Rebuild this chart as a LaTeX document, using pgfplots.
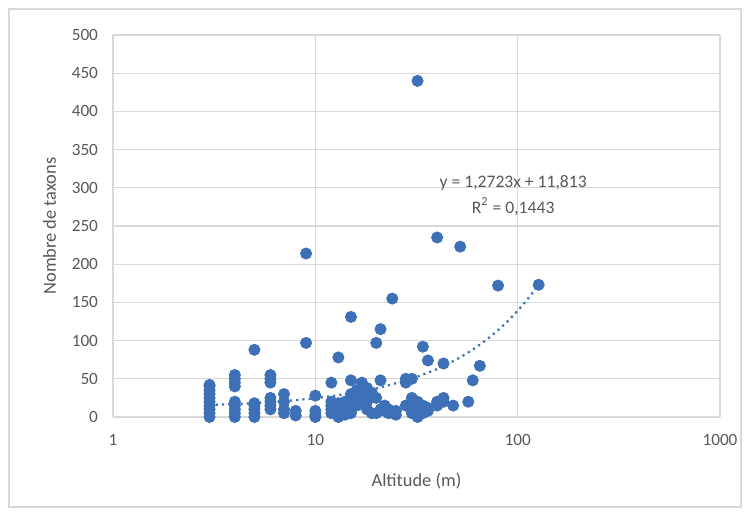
\documentclass[border=0pt]{standalone}
\usepackage{pgfplots}
\pgfplotsset{compat=1.18}
\usepackage{fontspec}
\setmainfont{Carlito}
\definecolor{ptblue}{HTML}{3E70B8}
\definecolor{txtgray}{HTML}{595959}
\definecolor{gridgray}{HTML}{D9D9D9}
\begin{document}
\begin{tikzpicture}[x=0.5pt,y=0.5pt]
\fill[white] (0,0) rectangle (750,516);
\draw[gridgray, line width=0.6pt] (9,9) rectangle (741,507);
\begin{axis}[
  at={(113pt*0.5,99pt*0.5)}, anchor=south west,
  scale only axis,
  width=303.5pt, height=191pt,
  xmode=log, log basis x=10,
  xmin=1, xmax=1000,
  ymin=0, ymax=500,
  ytick={0,50,...,500},
  xtick={1,10,100,1000},
  xticklabels={1,10,100,1000},
  grid=major,
  major grid style={gridgray, line width=0.6pt},
  axis line style={draw=none},
  tick style={draw=none},
  tick label style={font=\fontsize{8.6}{10}\selectfont, text=txtgray},
  xticklabel style={yshift=-5pt},
  yticklabel style={xshift=-4pt},
  /pgf/number format/assume math mode=true,
  xlabel={Altitude (m)},
  ylabel={Nombre de taxons},
  label style={font=\fontsize{9.2}{11}\selectfont, text=txtgray},
  xlabel style={yshift=-7pt},
  ylabel style={yshift=1pt},
  clip=false,
]
\draw[gridgray, line width=0.8pt] (axis cs:1,0) -- (axis cs:1000,0);
\addplot[only marks, mark=*, mark size=2.8pt, ptblue, mark options={draw=ptblue, fill=ptblue}] table {
x y
32 440
40 235
52 223
9 214
80 172
127 173
24 155
15 131
21 115
9 97
20 97
5 88
34 92
13 78
36 74
43 70
65 67
60 48
57 20
3 0
3 5
3 10
3 15
3 20
3 25
3 30
3 35
3 40
3 42
4 0
4 5
4 10
4 15
4 20
4 40
4 45
4 50
4 55
5 0
5 5
5 10
5 15
5 18
6 10
6 15
6 20
6 25
6 45
6 50
6 55
7 5
7 10
7 20
7 30
8 2
8 8
10 0
10 3
10 8
10 28
12 5
12 10
12 15
12 20
12 45
13 0
13 5
13 10
13 18
14 3
14 8
14 15
14 20
15 5
15 10
15 20
15 25
15 30
15 48
16 15
16 20
16 35
17 25
17 30
17 45
18 10
18 20
18 30
18 38
19 5
19 28
19 32
20 5
20 25
21 10
21 48
22 8
22 15
23 5
23 10
25 3
25 8
28 15
28 45
28 50
30 5
30 10
30 15
30 20
30 25
30 50
32 0
32 5
32 10
32 20
34 5
34 15
36 8
36 12
40 15
40 20
43 25
43 20
48 15
};
\addplot[ptblue, line width=1.1pt, dotted, no marks] coordinates {
(3,15.63) (4,16.90) (5,18.17) (7,20.72) (10,24.54) (15,30.90) (20,37.26)
(30,49.98) (40,62.70) (50,75.43) (60,88.15) (70,100.87) (80,113.60)
(90,126.32) (100,139.04) (110,151.77) (120,164.49) (127,173.40)
};
\node[font=\fontsize{8.8}{10}\selectfont, text=txtgray, align=center] at (axis cs:95,290)
  {y = 1,2723x + 11,813\\[3pt]R\textsuperscript{2} = 0,1443};
\end{axis}
\end{tikzpicture}
\end{document}
